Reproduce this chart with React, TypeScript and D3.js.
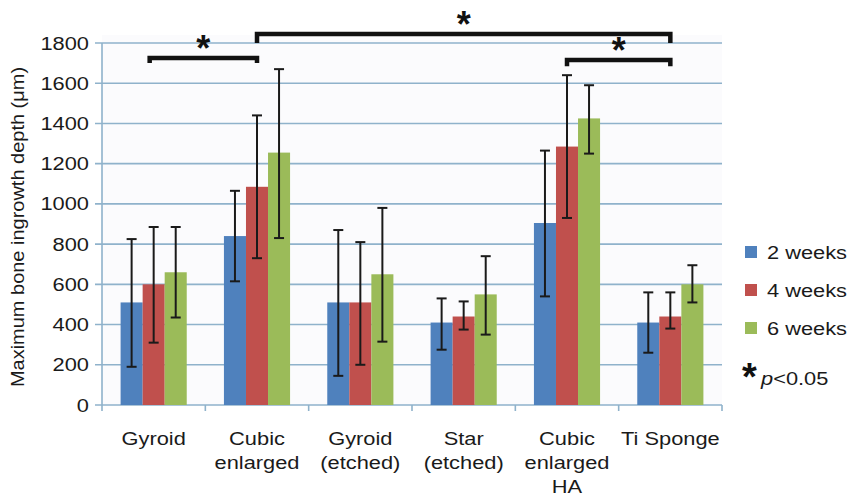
import { useEffect, useRef } from "react";
import * as d3 from "d3";

const categories = ["Gyroid", "Cubic\nenlarged", "Gyroid\n(etched)", "Star\n(etched)", "Cubic\nenlarged\nHA", "Ti Sponge"];
const seriesNames = ["2 weeks", "4 weeks", "6 weeks"];
const colors = ["#4F81BD", "#C0504D", "#9BBB59"];

const week2 = [510, 840, 510, 410, 905, 410];
const week2Low = [190, 615, 145, 275, 540, 260];
const week2High = [825, 1065, 870, 530, 1265, 560];

const week4 = [600, 1085, 510, 440, 1285, 440];
const week4Low = [310, 730, 200, 375, 930, 380];
const week4High = [885, 1440, 810, 515, 1640, 560];

const week6 = [660, 1255, 650, 550, 1425, 600];
const week6Low = [435, 830, 315, 350, 1250, 510];
const week6High = [885, 1670, 980, 740, 1590, 695];

const yTicks = [0, 200, 400, 600, 800, 1000, 1200, 1400, 1600, 1800];

// significance brackets: from/to = [category, series], y = level value, drop = end value
const brackets = [
    {from: [0, 1], to: [1, 1], y: 1725, drop: 1700},
    {from: [1, 1], to: [5, 1], y: 1845, drop: 1800},
    {from: [4, 1], to: [5, 1], y: 1715, drop: 1685},
];

const W = 848, H = 497;
const SX = 1.18;
const FONT = "Liberation Sans, Arial, sans-serif";

const App = () => {
    const ref = useRef(null);

    useEffect(() => {
        const svg = d3.select(ref.current);
        svg.selectAll("*").remove();

        const left = 102, right = 722, top = 43, bottom = 405;
        const x = d3.scaleBand().domain(categories).range([left, right]).paddingInner(0.36).paddingOuter(0.18);
        const xs = d3.scaleBand().domain(seriesNames).range([0, x.bandwidth()]);
        const y = d3.scaleLinear().domain([0, 1800]).range([bottom, top]);

        const txt = (g, xx, yy, s, size, anchor) =>
            g.append("text").attr("transform", `translate(${xx},${yy}) scale(${SX},1)`)
                .attr("text-anchor", anchor).attr("font-size", size)
                .attr("font-family", FONT).attr("fill", "#1a1a1a").text(s);

        svg.append("rect").attr("x", left).attr("y", top - 8).attr("width", right - left).attr("height", bottom - top + 8).attr("fill", "#fbfbfd");

        // grid
        svg.append("g").selectAll("line").data(yTicks).enter().append("line")
            .attr("x1", left - 7).attr("x2", right).attr("y1", d => y(d)).attr("y2", d => y(d))
            .attr("stroke", "#8fb2cb").attr("stroke-width", 1.6);
        svg.append("line").attr("x1", left).attr("x2", left).attr("y1", top).attr("y2", bottom + 6)
            .attr("stroke", "#8fb2cb").attr("stroke-width", 1.6);
        svg.append("g").selectAll("line").data(d3.range(1, categories.length + 1)).enter().append("line")
            .attr("x1", i => left + i * x.step()).attr("x2", i => left + i * x.step())
            .attr("y1", bottom).attr("y2", bottom + 6).attr("stroke", "#8fb2cb").attr("stroke-width", 1.6);

        yTicks.forEach(t => txt(svg, 89, y(t) + 6.5, t, 18.5, "end"));

        const vals = [week2, week4, week6], lows = [week2Low, week4Low, week6Low], highs = [week2High, week4High, week6High];
        const cx = (c, s) => x(categories[c]) + xs(seriesNames[s]) + xs.bandwidth() / 2;

        vals.forEach((arr, s) => {
            svg.append("g").selectAll("rect").data(arr).enter().append("rect")
                .attr("x", (d, i) => x(categories[i]) + xs(seriesNames[s]))
                .attr("width", xs.bandwidth())
                .attr("y", d => y(d)).attr("height", d => bottom - y(d))
                .attr("fill", colors[s]);
        });
        vals.forEach((arr, s) => {
            const g = svg.append("g").attr("stroke", "#1a1a1a").attr("stroke-width", 2);
            arr.forEach((d, i) => {
                const c = cx(i, s);
                g.append("line").attr("x1", c).attr("x2", c).attr("y1", y(lows[s][i])).attr("y2", y(highs[s][i]));
                g.append("line").attr("x1", c - 5).attr("x2", c + 5).attr("y1", y(lows[s][i])).attr("y2", y(lows[s][i]));
                g.append("line").attr("x1", c - 5).attr("x2", c + 5).attr("y1", y(highs[s][i])).attr("y2", y(highs[s][i]));
            });
        });

        // brackets
        brackets.forEach((b, k) => {
            const x1 = cx(b.from[0], b.from[1]) - (k === 0 ? 4 : 0), x2 = cx(b.to[0], b.to[1]);
            const yl = y(b.y), yd = y(b.drop);
            svg.append("path").attr("d", `M${x1},${yd}V${yl}H${x2}V${yd}`)
                .attr("fill", "none").attr("stroke", "#111").attr("stroke-width", 4.5);
            svg.append("text").attr("x", (x1 + x2) / 2).attr("y", yl + 3).attr("text-anchor", "middle")
                .attr("font-size", 36).attr("font-weight", "bold").attr("font-family", FONT).attr("fill", "#111").text("*");
        });

        // category labels
        categories.forEach(c => {
            c.split("\n").forEach((ln, j) => txt(svg, x(c) + x.bandwidth() / 2, 445 + j * 24, ln, 18.5, "middle"));
        });

        // y title
        svg.append("text").attr("transform", `translate(24,${(top + bottom) / 2 + 3}) rotate(-90) scale(1.08,1)`)
            .attr("text-anchor", "middle").attr("font-size", 18.5).attr("font-family", FONT)
            .attr("fill", "#1a1a1a").text("Maximum bone ingrowth depth (\u03bcm)");

        // legend
        seriesNames.forEach((n, i) => {
            const ly = 252 + i * 38;
            svg.append("rect").attr("x", 745).attr("y", ly - 6).attr("width", 12).attr("height", 12).attr("fill", colors[i]);
            txt(svg, 767, ly + 7, n, 18.5, "start");
        });
        svg.append("text").attr("x", 742).attr("y", 390).attr("font-size", 38).attr("font-weight", "bold")
            .attr("font-family", FONT).attr("fill", "#111").text("*");
        const pt = svg.append("text").attr("transform", `translate(761,385) scale(${SX},1)`).attr("font-size", 18.5)
            .attr("font-family", FONT).attr("fill", "#1a1a1a");
        pt.append("tspan").attr("font-style", "italic").text("p");
        pt.append("tspan").text("<0.05");
    }, []);

    return <svg ref={ref} width={W} height={H} style={{display: "block", position: "absolute", left: 0, top: 0, background: "#fff"}}/>;
};

export default App;
